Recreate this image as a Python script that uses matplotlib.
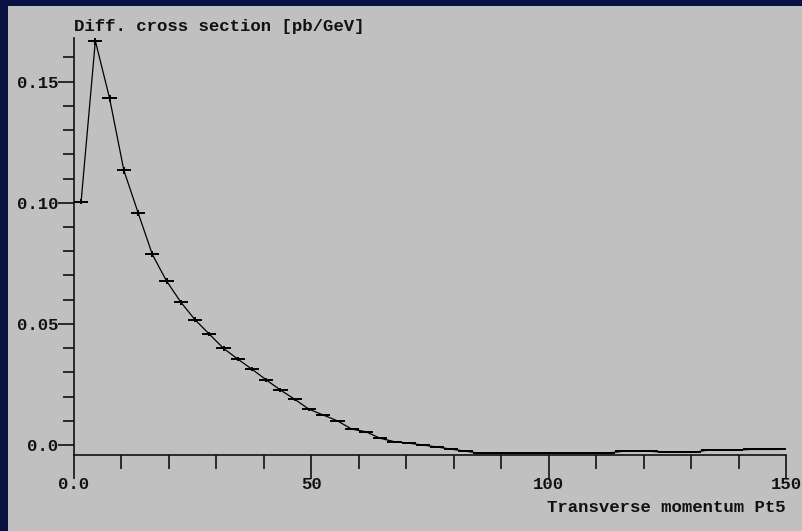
import numpy as np
import matplotlib.pyplot as plt
from matplotlib.patches import Rectangle
from matplotlib.ticker import MultipleLocator

# histogram: 50 bins of width 3 GeV over 0..150
bin_width = 3.0
bin_centers = np.arange(1.5, 150, bin_width)
xsec = [
    0.1005, 0.1668, 0.1431, 0.1134, 0.0959, 0.0787, 0.0677, 0.0590, 0.0517, 0.0458,
    0.0399, 0.0355, 0.0313, 0.0269, 0.0227, 0.0189, 0.0148, 0.0124, 0.0100, 0.0066,
    0.0055, 0.0028, 0.0014, 0.0008, 0.0000, -0.0008, -0.0017, -0.0025, -0.0034, -0.0034,
    -0.0033, -0.0033, -0.0033, -0.0033, -0.0033, -0.0033, -0.0033, -0.0033, -0.0026, -0.0026,
    -0.0026, -0.0030, -0.0030, -0.0030, -0.0021, -0.0021, -0.0021, -0.0018, -0.0018, -0.0018,
]
xsec_err = [
    0.0012, 0.0015, 0.0014, 0.0014, 0.0013, 0.0012, 0.0011, 0.0010, 0.0010, 0.0009,
    0.0009, 0.0008, 0.0008, 0.0007, 0.0007, 0.0006, 0.0006, 0.0005, 0.0005, 0.0004,
    0.0004, 0.0003, 0.0003, 0.0002, 0.0002, 0.0002, 0.0001, 0.0001, 0.0001, 0.0001,
] + [0.0001] * 20

xticks_major = [0, 50, 100, 150]
xtick_labels = ["0.0", "50", "100", "150"]
yticks_major = [0.0, 0.05, 0.10, 0.15]
ytick_labels = ["0.0", "0.05", "0.10", "0.15"]

W, H = 802, 531
mono = "Liberation Mono"
ink = "#111111"

fig = plt.figure(figsize=(W / 100, H / 100), dpi=100)
fig.patch.set_facecolor("#0a1142")
# grey canvas on top of the navy slide background
fig.patches.append(Rectangle((8 / W, 0), 1, 1 - 6 / H, transform=fig.transFigure,
                             facecolor="#c0c0c0", edgecolor="none", zorder=-5))

ax = fig.add_axes([74 / W, 76 / H, (786 - 74) / W, (455 - 38) / H])
ax.set_zorder(2)
ax.set_facecolor("none")

ax.plot(bin_centers, xsec, color="black", lw=0.9, zorder=3)
ax.errorbar(bin_centers, xsec, xerr=bin_width / 2, yerr=xsec_err, fmt="none",
            ecolor="black", elinewidth=1.4, capsize=0, zorder=4)

ax.set_xlim(0, 150)
ax.set_ylim(-0.0041, 0.168)

for s in ["top", "right"]:
    ax.spines[s].set_visible(False)
for s in ["left", "bottom"]:
    ax.spines[s].set_linewidth(1.2)
    ax.spines[s].set_color(ink)

ax.set_xticks(xticks_major)
ax.set_xticklabels(xtick_labels)
ax.xaxis.set_minor_locator(MultipleLocator(10))
ax.set_yticks(yticks_major)
ax.set_yticklabels(ytick_labels)
ax.yaxis.set_minor_locator(MultipleLocator(0.01))

ax.tick_params(axis="x", which="major", direction="out", length=17, width=1.2,
               pad=-1, labelsize=12.5, color=ink)
ax.tick_params(axis="x", which="minor", direction="out", length=10, width=1.2,
               color=ink)
ax.tick_params(axis="y", which="major", direction="out", length=11.5, width=1.2,
               pad=0, labelsize=12.5, color=ink)
ax.tick_params(axis="y", which="minor", direction="out", length=8, width=1.2,
               color=ink)
for lbl in ax.get_xticklabels() + ax.get_yticklabels():
    lbl.set_fontfamily(mono)
    lbl.set_fontweight("bold")
    lbl.set_color(ink)

fig.text(74 / W, 1 - 31.5 / H, "Diff. cross section [pb/GeV]", family=mono,
         fontsize=12.5, fontweight="bold", color=ink, ha="left", va="baseline")
fig.text(786 / W, 1 - 508 / H, "Transverse momentum Pt5", family=mono,
         fontsize=12.5, fontweight="bold", color=ink, ha="right", va="center")

fig.savefig("out.png", dpi=100, facecolor=fig.get_facecolor())
